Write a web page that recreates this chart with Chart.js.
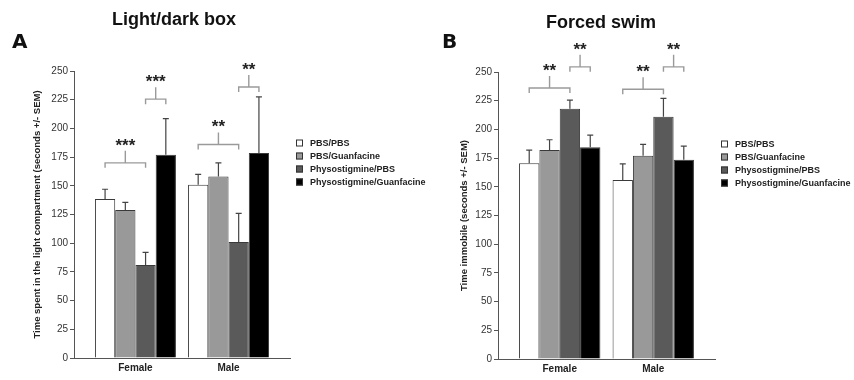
<!DOCTYPE html>
<html>
<head>
<meta charset="utf-8">
<script src="https://cdn.jsdelivr.net/npm/chart.js@4"></script>
<style>
body{margin:0;background:#fff;width:854px;height:380px;position:relative;overflow:hidden}
canvas{position:absolute;top:0}
#chartA{left:0}
#chartB{left:430px}
</style>
</head>
<body>
<canvas id="chartA" width="430" height="380"></canvas>
<canvas id="chartB" width="424" height="380"></canvas>
<script>
// data
let categories=["Female","Male"];
let groups=["PBS/PBS","PBS/Guanfacine","Physostigmine/PBS","Physostigmine/Guanfacine"];
let yTicks=[0,25,50,75,100,125,150,175,200,225,250];

// light/dark box (seconds in light compartment)
let ldPbsPbs=[138.5,151];
let ldPbsGuan=[129,158];
let ldPhysoPbs=[81,101];
let ldPhysoGuan=[177,178.5];
let ldSemPbsPbs=[8.5,9];
let ldSemPbsGuan=[6.5,12];
let ldSemPhysoPbs=[11,25];
let ldSemPhysoGuan=[31.5,49];
// significance brackets: category, bar from, bar to, height, label
let ldSigCat=[0,0,1,1];
let ldSigFrom=[0,2,0,2];
let ldSigTo=[2,3,2,3];
let ldSigY=[170,225.5,186,236];
let ldSigText=["***","***","**","**"];

// forced swim (time immobile)
let fsPbsPbs=[170.5,156];
let fsPbsGuan=[182,177];
let fsPhysoPbs=[218,211];
let fsPhysoGuan=[184.5,173.5];
let fsSemPbsPbs=[11.5,14];
let fsSemPbsGuan=[9,10];
let fsSemPhysoPbs=[7.5,16];
let fsSemPhysoGuan=[10.5,12];
let fsSigCat=[0,0,1,1];
let fsSigFrom=[0,2,0,2];
let fsSigTo=[2,3,2,3];
let fsSigY=[236,254.5,235,254.5];
let fsSigText=["**","**","**","**"];

let barColors=["#ffffff","#999999","#5a5a5a","#000000"];
let font="'Liberation Sans', Arial, sans-serif";

let extras={
    id:"extras",
    afterDatasetsDraw(chart){
        let c=chart.ctx;
        let y=chart.scales.y;
        let p=chart.options.plugins.extras;
        c.save();
        // error bars (upper SEM only)
        c.strokeStyle="#444";
        c.lineWidth=1.2;
        chart.data.datasets.forEach((ds,i)=>{
            chart.getDatasetMeta(i).data.forEach((bar,j)=>{
                let top=y.getPixelForValue(ds.data[j].y+ds.sem[j]);
                c.beginPath();
                c.moveTo(bar.x,bar.y);
                c.lineTo(bar.x,top);
                c.moveTo(bar.x-3,top);
                c.lineTo(bar.x+3,top);
                c.stroke();
            });
        });
        // brackets
        for(let k=0;k<p.sigCat.length;k++){
            let x1=chart.getDatasetMeta(p.sigFrom[k]).data[p.sigCat[k]].x;
            let x2=chart.getDatasetMeta(p.sigTo[k]).data[p.sigCat[k]].x;
            let yy=y.getPixelForValue(p.sigY[k]);
            let mid=(x1+x2)/2;
            c.strokeStyle="#9a9a9a";
            c.lineWidth=1.4;
            c.beginPath();
            c.moveTo(x1,yy+5);
            c.lineTo(x1,yy);
            c.lineTo(x2,yy);
            c.lineTo(x2,yy+5);
            c.moveTo(mid,yy);
            c.lineTo(mid,yy-12);
            c.stroke();
            c.fillStyle="#222";
            c.font="bold 17px "+font;
            c.textAlign="center";
            c.textBaseline="alphabetic";
            c.fillText(p.sigText[k],mid,yy-12);
        }
        c.restore();
    },
    afterDraw(chart){
        let c=chart.ctx;
        let a=chart.chartArea;
        let p=chart.options.plugins.extras;
        c.save();
        c.fillStyle="#111";
        c.textAlign="center";
        c.textBaseline="alphabetic";
        c.font="bold 18px "+font;
        c.fillText(p.title,p.titleX,p.titleY);
        c.textAlign="left";
        c.font="bold 20px 'DejaVu Sans', sans-serif";
        c.fillText(p.letter,12,48);
        // legend
        c.font="bold 9px "+font;
        c.textBaseline="middle";
        groups.forEach((g,i)=>{
            let ly=a.top+72+i*13;
            c.fillStyle=barColors[i];
            c.fillRect(a.right+6,ly-3.5,7,7);
            c.strokeStyle="#333";
            c.lineWidth=1;
            c.strokeRect(a.right+6.5,ly-3,6,6);
            c.fillStyle="#222";
            c.fillText(g,a.right+20,ly+0.5);
        });
        c.restore();
    }
};

function makeChart(id,p){
    let ctx=document.getElementById(id).getContext("2d");
    return new Chart(ctx,{
        type:"bar",
        data:{
            datasets:groups.map((g,i)=>({
                label:g,
                data:categories.map((cat,j)=>({x:j,y:p.values[i][j]})),
                sem:p.sems[i],
                backgroundColor:barColors[i],
                borderColor:"#3a3a3a",
                borderWidth:1,
                categoryPercentage:0.87,
                barPercentage:1
            }))
        },
        options:{
            responsive:false,
            animation:false,
            devicePixelRatio:1,
            layout:{padding:{top:p.top,right:p.right,left:0,bottom:0}},
            plugins:{
                legend:{display:false},
                tooltip:{enabled:false},
                extras:p
            },
            scales:{
                x:{
                    type:"linear",
                    min:-0.66,
                    max:1.66,
                    offset:false,
                    afterBuildTicks:s=>{s.ticks=categories.map((cat,j)=>({value:j}));},
                    afterFit:s=>{s.height=p.xh;},
                    ticks:{
                        callback:v=>categories[v],
                        autoSkip:false,
                        maxRotation:0,
                        padding:4,
                        color:"#222",
                        font:{family:font,size:10,weight:"bold"}
                    },
                    grid:{display:false,drawTicks:false,offset:false},
                    border:{color:"#555",width:1}
                },
                y:{
                    min:0,
                    max:250,
                    afterBuildTicks:s=>{s.ticks=yTicks.map(v=>({value:v}));},
                    afterFit:s=>{s.width=p.yw;},
                    ticks:{
                        padding:2,
                        color:"#333",
                        font:{family:font,size:10}
                    },
                    grid:{drawOnChartArea:false,tickLength:4,color:"#555"},
                    border:{color:"#555",width:1},
                    title:{
                        display:true,
                        text:p.yTitle,
                        color:"#222",
                        padding:{top:p.titlePad,bottom:0},
                        font:{family:font,size:9.5,weight:"bold"}
                    }
                }
            }
        },
        plugins:[extras]
    });
}

makeChart("chartA",{
    values:[ldPbsPbs,ldPbsGuan,ldPhysoPbs,ldPhysoGuan],
    sems:[ldSemPbsPbs,ldSemPbsGuan,ldSemPhysoPbs,ldSemPhysoGuan],
    sigCat:ldSigCat,sigFrom:ldSigFrom,sigTo:ldSigTo,sigY:ldSigY,sigText:ldSigText,
    title:"Light/dark box",titleX:174,titleY:25,letter:"A",
    yTitle:"Time spent in the light compartment (seconds +/- SEM)",
    top:71,right:140,xh:22,yw:74,titlePad:32
});

makeChart("chartB",{
    values:[fsPbsPbs,fsPbsGuan,fsPhysoPbs,fsPhysoGuan],
    sems:[fsSemPbsPbs,fsSemPbsGuan,fsSemPhysoPbs,fsSemPhysoGuan],
    sigCat:fsSigCat,sigFrom:fsSigFrom,sigTo:fsSigTo,sigY:fsSigY,sigText:fsSigText,
    title:"Forced swim",titleX:171,titleY:28,letter:"B",
    yTitle:"Time immobile (seconds +/- SEM)",
    top:72,right:139,xh:21,yw:68,titlePad:29
});
</script>
</body>
</html>
